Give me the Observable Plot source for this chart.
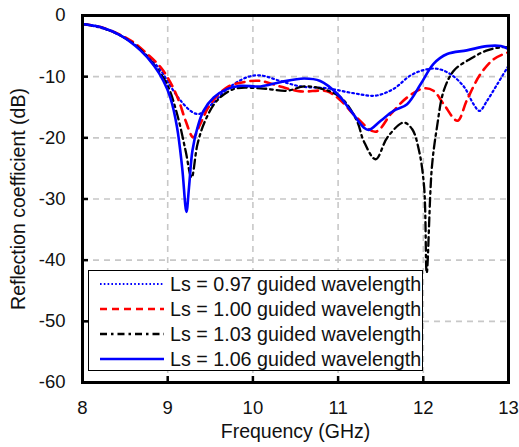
<!DOCTYPE html>
<html><head><meta charset="utf-8">
<script src="https://cdn.jsdelivr.net/npm/d3@7"></script>
<script src="https://cdn.jsdelivr.net/npm/@observablehq/plot@0.6"></script>
<style>
body{margin:0;background:#fff;font-family:"Liberation Sans",Arial,sans-serif;}
#wrap{position:relative;width:519px;height:447px;}
#legend{position:absolute;left:88px;top:270px;width:333px;height:99px;background:#fff;border:1.6px solid #000;}
.row{position:absolute;left:0;height:25px;display:flex;align-items:center;}
.row svg{margin-left:11px;margin-right:6px;}
.row span{font-size:19.7px;color:#111;white-space:nowrap;}
</style>
</head><body>
<div id="wrap"></div>
<script>
const seriesNames = ["Ls = 0.97 guided wavelength","Ls = 1.00 guided wavelength","Ls = 1.03 guided wavelength","Ls = 1.06 guided wavelength"];
const f097 = [8.0,8.21,8.41,8.60,8.76,8.92,9.03,9.15,9.29,9.37,9.54,9.70,9.93,10.09,10.32,10.56,10.87,11.18,11.44,11.65,11.85,12.01,12.16,12.32,12.48,12.59,12.66,12.75,12.87,13.0];
const s097 = [-1.4,-2.0,-3.0,-4.6,-6.6,-9.0,-11.5,-13.9,-15.8,-16.1,-14.2,-12.0,-10.1,-9.8,-10.7,-11.6,-11.9,-12.7,-13.1,-12.0,-9.8,-8.9,-8.7,-9.6,-11.7,-14.5,-15.6,-13.9,-11.2,-8.2];
const f100 = [8.0,8.21,8.45,8.60,8.76,8.92,9.03,9.13,9.21,9.30,9.38,9.50,9.70,9.93,10.09,10.32,10.56,10.87,11.03,11.22,11.44,11.62,11.81,12.01,12.12,12.24,12.40,12.51,12.67,12.83,13.0];
const s100 = [-1.4,-1.9,-3.2,-4.4,-6.3,-8.5,-10.9,-13.9,-17.2,-19.9,-17.8,-14.5,-11.7,-10.8,-10.7,-11.6,-12.4,-12.4,-13.9,-16.7,-19.0,-16.1,-13.4,-11.9,-12.3,-14.5,-17.2,-13.9,-9.6,-7.1,-6.0];
const f103 = [8.0,8.21,8.45,8.65,8.80,8.99,9.11,9.21,9.28,9.35,9.44,9.58,9.78,10.09,10.40,10.60,10.79,11.03,11.22,11.30,11.44,11.58,11.77,11.87,11.95,12.01,12.04,12.10,12.16,12.24,12.36,12.55,12.75,12.91,13.0];
const s103 = [-1.4,-1.9,-3.3,-5.2,-7.4,-11.2,-16.1,-22.1,-26.5,-21.0,-17.2,-13.9,-12.0,-11.9,-12.3,-11.6,-11.9,-13.4,-17.2,-20.5,-23.5,-19.9,-17.5,-18.6,-22.1,-28.1,-42.1,-24.9,-18.3,-12.3,-9.0,-7.1,-5.7,-5.2,-5.2];
const f106 = [8.0,8.21,8.45,8.68,8.84,8.95,9.03,9.11,9.17,9.22,9.25,9.29,9.35,9.42,9.54,9.70,9.85,10.09,10.32,10.60,10.79,10.99,11.15,11.30,11.36,11.50,11.65,11.81,11.97,12.12,12.28,12.51,12.75,12.91,13.0];
const s106 = [-1.4,-1.9,-3.3,-5.7,-8.2,-10.7,-13.4,-18.3,-24.9,-32.1,-28.1,-22.1,-18.3,-15.6,-13.4,-12.0,-11.5,-11.6,-10.9,-10.3,-10.7,-12.8,-15.6,-18.3,-18.7,-17.2,-15.6,-14.5,-11.2,-7.9,-6.3,-5.7,-5.0,-5.0,-5.5];
const xTicks = [8,9,10,11,12,13];
const yTicks = [0,-10,-20,-30,-40,-50,-60];
const xLabel = "Frequency (GHz)";
const yLabel = "Reflection coefficient (dB)";

const styles = [
  {stroke:"#0000ff", dash:"1.8,3", legDash:"1.6,2.2", width:2.2},
  {stroke:"#ff0000", dash:"9,6", legDash:"7,5", width:2.6},
  {stroke:"#000000", dash:"9,4,2.5,4", legDash:"7,4,2.5,4", width:2.3},
  {stroke:"#0000ff", dash:null, legDash:null, width:2.6}
];
const fs = [f097,f100,f103,f106], ss = [s097,s100,s103,s106];
const series = fs.map((f,i)=>f.map((x,j)=>({f:x, db:ss[i][j]})));

const lineMarks = series.map((d,i)=>Plot.line(d,{x:"f", y:"db", curve:"catmull-rom",
  stroke:styles[i].stroke, strokeWidth:styles[i].width, strokeDasharray:styles[i].dash||undefined}));

const chart = Plot.plot({
  width:519, height:447,
  marginLeft:82, marginRight:11, marginTop:15, marginBottom:65,
  style:{fontFamily:'"Liberation Sans",Arial,sans-serif', background:"#fff", color:"#111"},
  x:{domain:[8,13]},
  y:{domain:[-60,0]},
  marks:[
    Plot.gridX([9,10,11,12],{stroke:"#c8c8c8", strokeOpacity:1, strokeWidth:1.6, strokeDasharray:"6,5"}),
    Plot.gridY([-10,-20,-30,-40,-50],{stroke:"#c8c8c8", strokeOpacity:1, strokeWidth:1.6, strokeDasharray:"6,5"}),
    ...lineMarks,
    Plot.ruleX(xTicks,{x:d=>d, insetTop:361, stroke:"#000", strokeWidth:2.5}),
    Plot.ruleY(yTicks,{y:d=>d, insetRight:420, stroke:"#000", strokeWidth:2.5}),
    Plot.frame({stroke:"#000", strokeWidth:3}),
    Plot.axisX(xTicks,{tickSize:0, tickPadding:18, fontSize:18.5, label:null}),
    Plot.axisY(yTicks,{tickSize:0, tickPadding:17, fontSize:18.5, label:null, tickFormat:d=>String(d)}),
    Plot.text([xLabel],{frameAnchor:"bottom", dy:49, fontSize:19.5, lineAnchor:"middle", textAnchor:"middle"}),
    Plot.text([yLabel],{frameAnchor:"left", dx:-64, rotate:-90, fontSize:19.5, lineAnchor:"middle", textAnchor:"middle"})
  ]
});
const wrap = document.getElementById("wrap");
wrap.appendChild(chart);

const leg = document.createElement("div");
leg.id = "legend";
seriesNames.forEach((name,i)=>{
  const row = document.createElement("div");
  row.className = "row";
  row.style.top = (0.5 + i*25) + "px";
  const st = styles[i];
  row.innerHTML = `<svg width="64" height="10"><line x1="0" y1="5" x2="64" y2="5" stroke="${st.stroke}" stroke-width="${st.width}" ${st.legDash?`stroke-dasharray="${st.legDash}"`:""}/></svg><span>${name}</span>`;
  leg.appendChild(row);
});
wrap.appendChild(leg);
</script>
</body></html>
